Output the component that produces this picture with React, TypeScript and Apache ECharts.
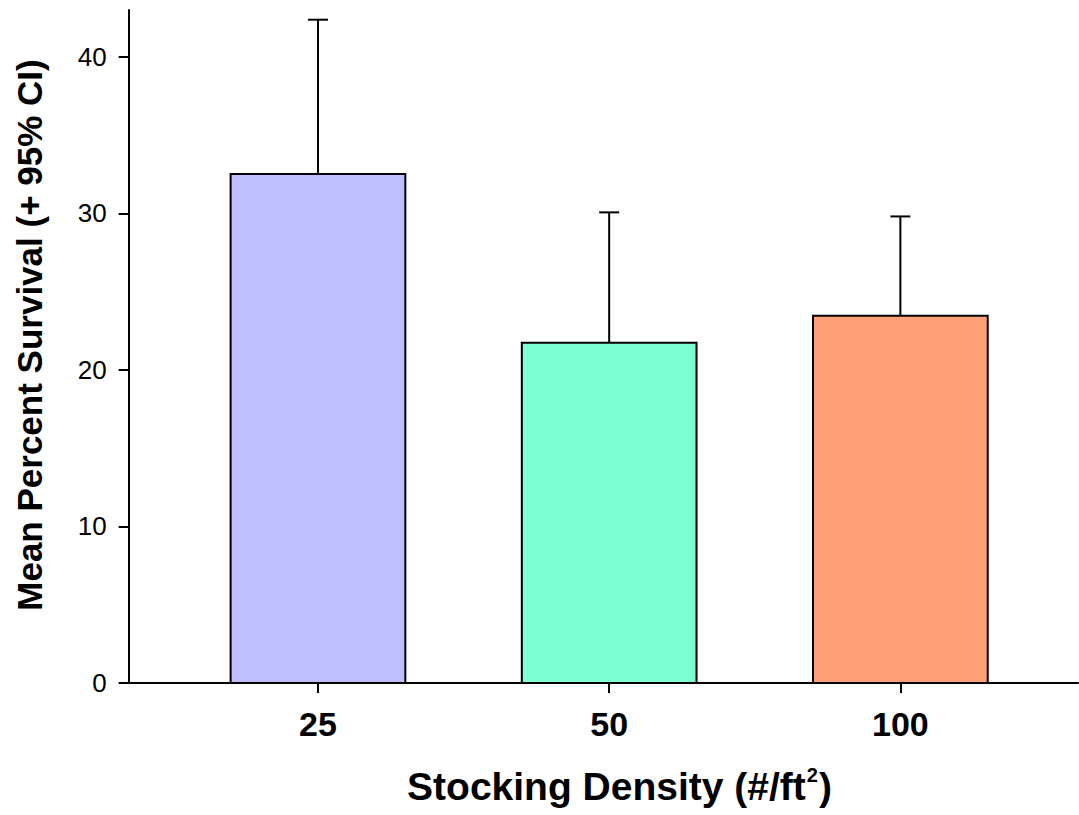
import React, { useEffect, useRef } from "react";
import * as echarts from "echarts";

const categories = ["25", "50", "100"];
const positions = [1, 2, 3];
const meanSurvival = [32.52, 21.74, 23.46];
const upperCI = [42.38, 30.07, 29.81];
const barColors = ["#C0C0FF", "#7FFFD4", "#FFA07A"];
const yTicks = [0, 10, 20, 30, 40];
const xTitleMain = "Stocking Density (#/ft";
const xTitleSup = "2";
const xTitleEnd = ")";
const yTitle = "Mean Percent Survival (+ 95% CI)";

const FONT = "'Liberation Sans', Arial, Helvetica, sans-serif";

export default function App() {
  const ref = useRef<HTMLDivElement>(null);
  useEffect(() => {
    if (!ref.current) return;
    const chart = echarts.init(ref.current, null, { renderer: "svg" });
    const barData = positions.map((p, i) => [p, meanSurvival[i], i]);
    const errData = positions.map((p, i) => [p, meanSurvival[i], upperCI[i]]);

    const mainFont = `bold 39px ${FONT}`;
    const supFont = `bold 20px ${FONT}`;
    const fmt: any = echarts.format as any;
    const measure = (t: string, f: string, fallback: number) =>
      fmt && fmt.getTextRect ? fmt.getTextRect(t, f).width : fallback;
    const wMain = measure(xTitleMain, mainFont, 398.7);
    const wSup = measure(xTitleSup, supFont, 11.1);
    const wEnd = measure(xTitleEnd, mainFont, 13);
    const total = wMain + wSup + wEnd;
    const startX = 618.5 - total / 2;

    chart.setOption({
      animation: false,
      backgroundColor: "#ffffff",
      grid: { left: 128.7, right: 1, top: 10, bottom: 132 },
      xAxis: {
        type: "value",
        min: 0.35,
        max: 3.61,
        splitLine: { show: false },
        axisLine: { show: true, onZero: false, lineStyle: { color: "#000", width: 2 } },
        axisTick: { show: true, customValues: positions, length: 10, lineStyle: { color: "#000", width: 2 } },
        axisLabel: {
          customValues: positions,
          formatter: (v: number) => {
            const idx = positions.indexOf(Math.round(v));
            return idx >= 0 ? categories[idx] : "";
          },
          color: "#000",
          fontFamily: FONT,
          fontWeight: "bold",
          fontSize: 34,
          margin: 24,
        },
      },
      yAxis: {
        type: "value",
        min: 0,
        max: 43,
        splitLine: { show: false },
        axisLine: { show: true, lineStyle: { color: "#000", width: 2 } },
        axisTick: { show: true, customValues: yTicks, length: 10, lineStyle: { color: "#000", width: 2 } },
        axisLabel: {
          customValues: yTicks,
          color: "#000",
          fontFamily: FONT,
          fontSize: 26,
          margin: 22,
        },
      },
      graphic: [
        {
          type: "text",
          x: startX,
          y: 786,
          style: {
            text: xTitleMain,
            font: mainFont,
            fill: "#000",
            align: "left",
            verticalAlign: "middle",
          },
        },
        {
          type: "text",
          x: startX + wMain + 1,
          y: 785,
          style: {
            text: xTitleSup,
            font: supFont,
            fill: "#000",
            align: "left",
            verticalAlign: "bottom",
          },
        },
        {
          type: "text",
          x: startX + wMain + wSup + 2,
          y: 786,
          style: {
            text: xTitleEnd,
            font: mainFont,
            fill: "#000",
            align: "left",
            verticalAlign: "middle",
          },
        },
        {
          type: "text",
          x: 29,
          y: 335,
          rotation: Math.PI / 2,
          style: {
            text: yTitle,
            fontFamily: FONT,
            fontWeight: "bold",
            fontSize: 35,
            fill: "#000",
            align: "center",
            verticalAlign: "middle",
          },
        },
      ],
      series: [
        {
          type: "custom",
          data: barData,
          encode: { x: 0, y: 1 },
          renderItem: (params: any, api: any) => {
            const x = api.value(0);
            const y = api.value(1);
            const idx = api.value(2);
            const topLeft = api.coord([x - 0.3, y]);
            const bottomRight = api.coord([x + 0.3, 0]);
            return {
              type: "rect",
              shape: {
                x: topLeft[0],
                y: topLeft[1],
                width: bottomRight[0] - topLeft[0],
                height: bottomRight[1] - topLeft[1],
              },
              style: { fill: barColors[idx], stroke: "#000", lineWidth: 2 },
            };
          },
          z: 2,
        },
        {
          type: "custom",
          data: errData,
          encode: { x: 0, y: [1, 2] },
          renderItem: (params: any, api: any) => {
            const x = api.value(0);
            const lo = api.coord([x, api.value(1)]);
            const hi = api.coord([x, api.value(2)]);
            return {
              type: "group",
              children: [
                {
                  type: "line",
                  shape: { x1: lo[0], y1: lo[1], x2: hi[0], y2: hi[1] },
                  style: { stroke: "#000", lineWidth: 2 },
                },
                {
                  type: "line",
                  shape: { x1: hi[0] - 10, y1: hi[1], x2: hi[0] + 10, y2: hi[1] },
                  style: { stroke: "#000", lineWidth: 2 },
                },
              ],
            };
          },
          z: 3,
        },
      ],
    });
    return () => chart.dispose();
  }, []);
  return (
    <div
      ref={ref}
      style={{ position: "absolute", left: 0, top: 0, width: 1079, height: 815 }}
    />
  );
}
